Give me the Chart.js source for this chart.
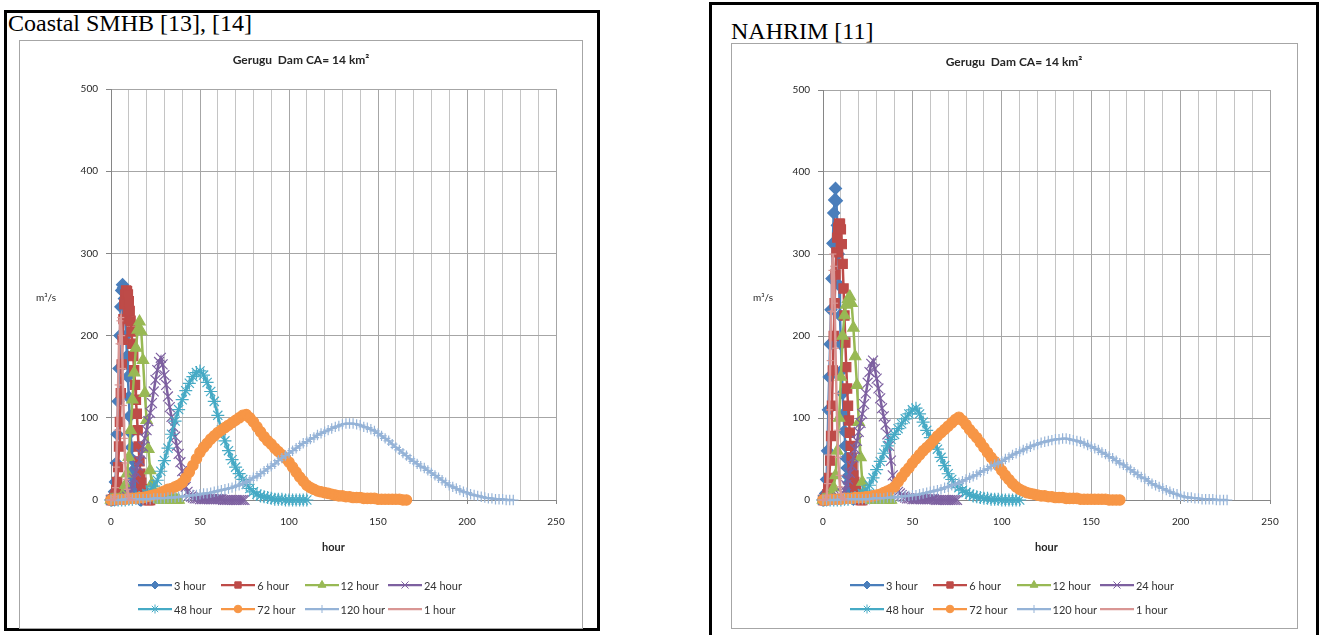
<!DOCTYPE html>
<html>
<head>
<meta charset="utf-8">
<title>Gerugu Dam design hydrographs</title>
<script src="https://cdn.jsdelivr.net/npm/chart.js@4.4.1/dist/chart.umd.min.js"></script>
<style>
  body { margin: 0; width: 1324px; height: 635px; overflow: hidden; position: relative; background: #fff; font-family: Lato, sans-serif; }
  .frame { position: absolute; border: 3px solid #000; box-sizing: border-box; }
  .caption { position: absolute; font-family: "Liberation Serif", "Times New Roman", serif; font-size: 24px; line-height: 26px; color: #000; white-space: nowrap; }
  .chartbox { position: absolute; border: 1px solid #a6a6a6; box-sizing: border-box; background: #fff; }
  .chartbox canvas { position: absolute; left: 0; top: 0; }
  .ytitle { position: absolute; font-size: 10px; color: #262626; transform: translate(-50%, -50%); white-space: nowrap; }
  .legend { position: absolute; display: grid; grid-template-columns: repeat(4, 83.3px); grid-auto-rows: 14px; row-gap: 10px; }
  .legend .item { display: flex; align-items: center; font-size: 11px; color: #333; white-space: nowrap; }
  .legend .item span { margin-left: 2px; }
</style>
</head>
<body>

<div class="frame" style="left:4px; top:10px; width:596px; height:621px;"></div>
<div class="caption" style="left:8px; top:10px;">Coastal SMHB [13], [14]</div>
<div class="chartbox" style="left:19px; top:40px; width:564px; height:589px;">
  <canvas id="smhbChart" width="562" height="587"></canvas>
</div>
<div class="ytitle" style="left:46px; top:297px;">m³/s</div>
<div class="legend" id="smhbLegend" style="left:138px; top:578px;"></div>

<div class="frame" style="left:709px; top:2px; width:610px; height:640px;"></div>
<div class="caption" style="left:731px; top:18px;">NAHRIM [11]</div>
<div class="chartbox" style="left:731px; top:43px; width:567px; height:586px;">
  <canvas id="nahrimChart" width="565" height="584"></canvas>
</div>
<div class="ytitle" style="left:763px; top:297px;">m³/s</div>
<div class="legend" id="nahrimLegend" style="left:850px; top:578px;"></div>

<script>
const seriesNames = ['3 hour', '6 hour', '12 hour', '24 hour', '48 hour', '72 hour', '120 hour', '1 hour'];
// hours between successive ordinates of each hydrograph (all start at hour 0)
const timeSteps = [0.5, 0.5, 1, 1, 2, 2, 2, 0.5];
const xTicks = [0, 50, 100, 150, 200, 250];
const yTicks = [0, 100, 200, 300, 400, 500];

// Coastal SMHB [13], [14] - discharge in m3/s
const smhb3 = [0, 0, 1, 4, 10, 22, 45, 80, 120, 160, 200, 235, 255, 262, 258, 245, 225, 200, 175, 150,
  125, 102, 82, 64, 49, 36, 26, 18, 12, 8, 5, 3, 1, 0, 0];
const smhb6 = [0, 0, 0, 1, 3, 6, 12, 22, 40, 65, 95, 130, 165, 195, 220, 238, 250, 255, 254, 250,
  242, 230, 218, 205, 190, 175, 158, 140, 122, 105, 85, 65, 47, 32, 21, 13, 8, 5, 3, 2,
  1, 0, 0, 0, 0];
const smhb12 = [0, 0, 0, 0, 0, 0, 2, 8, 18, 32, 52, 85, 122, 155, 185, 207, 217, 205, 170, 130,
  97, 62, 36, 20, 11, 6, 3, 1, 0, 0, 0, 0, 0, 0, 0, 0, 0, 0, 0];
const smhb24 = [0, 0, 0, 0, 0, 0, 1, 1, 2, 4, 7, 12, 18, 26, 34, 42, 48, 56, 65, 75,
  85, 96, 106, 118, 132, 146, 158, 168, 173, 165, 152, 140, 126, 113, 101, 89, 77, 66, 56, 46,
  35, 25, 16, 10, 6, 4, 3, 2, 2, 2, 1, 1, 1, 1, 1, 1, 1, 1, 1, 1,
  1, 1, 1, 0, 0, 0, 0, 0, 0, 0, 0, 0, 0, 0, 0, 0];
const smhb48 = [0, 0, 0, 0, 0, 1, 1, 2, 3, 5, 8, 12, 17, 24, 35, 48, 63, 80, 96, 110,
  122, 133, 142, 150, 155, 157, 152, 143, 132, 120, 103, 85, 72, 60, 49, 40, 32, 25, 19, 14,
  10, 7, 5, 4, 3, 2, 1, 1, 1, 0, 0, 0, 0, 0, 0, 0];
const smhb72 = [0, 1, 1, 1, 1, 2, 2, 2, 3, 3, 4, 5, 6, 7, 9, 11, 13, 14, 16, 18,
  21, 27, 34, 42, 50, 58, 64, 69, 74, 78, 82, 85, 88, 91, 94, 97, 100, 103, 104, 100,
  95, 89, 83, 77, 72, 68, 63, 59, 55, 51, 46, 40, 34, 28, 23, 18, 15, 13, 11, 10,
  9, 8, 7, 6, 5, 5, 4, 4, 3, 3, 3, 2, 2, 2, 2, 1, 1, 1, 1, 1,
  1, 1, 0, 0];
const smhb120 = [0, 0, 0, 0, 1, 1, 1, 1, 1, 1, 1, 1, 2, 2, 2, 2, 3, 3, 3, 4,
  4, 5, 5, 6, 6, 7, 8, 8, 9, 10, 11, 12, 13, 14, 15, 17, 18, 20, 22, 24,
  27, 29, 32, 35, 38, 41, 44, 48, 51, 54, 57, 60, 63, 66, 69, 71, 74, 76, 79, 81,
  83, 85, 87, 89, 90, 92, 93, 93, 93, 92, 91, 89, 88, 86, 84, 81, 78, 75, 72, 68,
  64, 61, 57, 54, 50, 47, 44, 41, 39, 36, 33, 30, 27, 24, 21, 18, 16, 14, 12, 10,
  9, 7, 6, 5, 4, 3, 2, 2, 1, 1, 1, 0, 0, 0];
const smhb1 = [0, 0, 0, 1, 4, 15, 40, 85, 140, 190, 218, 222, 200, 160, 115, 75, 45, 25, 13, 6,
  3, 1, 0, 0, 0];

// NAHRIM [11] - discharge in m3/s
const nahrim3 = [0, 0, 2, 8, 25, 60, 110, 150, 190, 232, 270, 313, 350, 366, 380, 365, 335, 300, 262, 225,
  190, 158, 130, 105, 84, 66, 51, 39, 29, 21, 15, 10, 6, 3, 1];
const nahrim6 = [0, 0, 0, 1, 3, 7, 14, 27, 48, 78, 115, 158, 200, 240, 275, 302, 320, 332, 337, 337,
  330, 312, 288, 258, 225, 192, 162, 136, 115, 97, 82, 66, 52, 40, 30, 22, 16, 11, 7, 4,
  2, 1, 0, 0, 0];
const nahrim12 = [0, 0, 0, 1, 3, 7, 15, 30, 60, 100, 150, 200, 225, 238, 245, 248, 240, 210, 175, 140,
  95, 52, 22, 10, 5, 2, 1, 0, 0, 0, 0, 0, 0, 0, 0, 0, 0, 0, 0];
const nahrim24 = [0, 0, 0, 0, 0, 0, 1, 1, 2, 3, 5, 8, 12, 18, 25, 33, 42, 52, 62, 72,
  83, 94, 105, 117, 130, 143, 156, 166, 170, 160, 148, 136, 124, 112, 102, 92, 80, 66, 48, 30,
  20, 14, 10, 8, 6, 4, 3, 2, 2, 2, 1, 1, 1, 1, 1, 1, 1, 1, 1, 1,
  1, 1, 1, 0, 0, 0, 0, 0, 0, 0, 0, 0, 0, 0, 0, 0];
const nahrim48 = [0, 0, 0, 0, 0, 0, 1, 1, 2, 3, 5, 8, 12, 18, 27, 37, 47, 57, 66, 74,
  80, 87, 93, 99, 105, 110, 112, 105, 95, 85, 76, 69, 62, 52, 42, 32, 25, 19, 15, 12,
  9, 7, 5, 4, 3, 2, 2, 1, 1, 1, 0, 0, 0, 0, 0, 0];
const nahrim72 = [0, 0, 1, 1, 1, 1, 2, 2, 2, 3, 3, 3, 4, 4, 5, 6, 7, 9, 11, 13,
  16, 22, 28, 34, 39, 45, 50, 55, 60, 64, 68, 73, 78, 82, 86, 90, 94, 98, 101, 97,
  92, 86, 81, 76, 70, 64, 58, 52, 47, 42, 36, 30, 25, 20, 16, 13, 11, 9, 8, 7,
  6, 5, 5, 4, 4, 3, 3, 3, 2, 2, 2, 2, 1, 1, 1, 1, 1, 1, 1, 1,
  0, 0, 0, 0];
const nahrim120 = [0, 0, 0, 0, 0, 1, 1, 1, 1, 1, 1, 1, 1, 1, 2, 2, 2, 2, 3, 3,
  3, 4, 4, 5, 5, 6, 6, 7, 8, 9, 10, 11, 12, 13, 15, 16, 18, 19, 21, 23,
  25, 27, 29, 31, 34, 36, 38, 41, 43, 45, 47, 50, 52, 55, 57, 59, 61, 63, 65, 67,
  68, 70, 71, 72, 73, 74, 74, 75, 75, 74, 73, 72, 71, 69, 67, 65, 63, 61, 58, 56,
  53, 51, 48, 45, 43, 40, 37, 34, 31, 28, 26, 23, 20, 18, 16, 14, 12, 10, 8, 7,
  5, 4, 3, 3, 2, 2, 1, 1, 1, 1, 0, 0, 0, 0];
const nahrim1 = [0, 0, 0, 1, 5, 20, 55, 110, 170, 230, 280, 300, 285, 240, 185, 130, 85, 52, 30, 16,
  8, 4, 2, 1, 0];

const smhbSeries = [smhb3, smhb6, smhb12, smhb24, smhb48, smhb72, smhb120, smhb1];
const nahrimSeries = [nahrim3, nahrim6, nahrim12, nahrim24, nahrim48, nahrim72, nahrim120, nahrim1];

// Excel-like series look
const colors = ['#4A7EBB', '#BE4B48', '#98B954', '#7D60A0', '#46AAC5', '#F79646', '#95B3D7', '#D99694'];
const markers = ['rectRot', 'rect', 'triangle', 'crossRot', 'star', 'circle', 'cross', 'line'];
const markerSizes = [6, 6.5, 6.5, 7, 6.5, 5.2, 5.2, 3.5];
const legendMarkerSizes = [4, 4.5, 4.5, 5, 4.5, 3.8, 4, 3];

Chart.defaults.font.family = 'Lato';

function buildChart(canvasId, series, pad) {
  const ctx = document.getElementById(canvasId).getContext('2d');
  const datasets = series.map((values, i) => ({
    label: seriesNames[i],
    data: values.map((q, k) => ({ x: k * timeSteps[i], y: q })),
    borderColor: colors[i],
    backgroundColor: colors[i],
    borderWidth: 2.5,
    pointStyle: markers[i],
    pointRadius: markerSizes[i],
    pointBorderWidth: 1.2,
    pointBackgroundColor: colors[i],
    pointBorderColor: colors[i],
    tension: 0,
    clip: false,
    order: series.length - i // later series painted on top, as in Excel
  }));

  return new Chart(ctx, {
    type: 'line',
    data: { datasets },
    options: {
      responsive: false,
      animation: false,
      events: [],
      layout: { padding: { left: 26, right: pad.right, top: 0, bottom: 68 } },
      plugins: {
        legend: { display: false },
        tooltip: { enabled: false },
        title: {
          display: true,
          text: 'Gerugu  Dam CA= 14 km²',
          color: '#262626',
          font: { size: 12, weight: 'bold' },
          padding: { top: pad.titleTop, bottom: pad.titleBottom }
        }
      },
      scales: {
        x: {
          type: 'linear',
          min: 0,
          max: 250,
          afterFit: s => { s.height = 60; },
          ticks: {
            stepSize: 10,
            autoSkip: false,
            maxRotation: 0,
            minRotation: 0,
            padding: 12,
            color: '#262626',
            font: { size: 10 },
            callback: v => (xTicks.includes(v) ? v : '')
          },
          grid: {
            color: c => (c.tick && xTicks.includes(c.tick.value) ? '#A6A6A6' : '#C4C4C4'),
            tickColor: c => (c.tick && xTicks.includes(c.tick.value) ? '#868686' : 'rgba(0,0,0,0)'),
            tickLength: 4
          },
          border: { color: '#868686' },
          title: {
            display: true,
            text: 'hour',
            color: '#262626',
            font: { size: 11, weight: 'bold' },
            padding: { top: 0, bottom: 6 }
          }
        },
        y: {
          min: 0,
          max: 500,
          afterFit: s => { s.width = 65; },
          ticks: {
            stepSize: 100,
            padding: 8,
            color: '#262626',
            font: { size: 10 },
            callback: v => (yTicks.includes(v) ? v : '')
          },
          grid: { color: '#A6A6A6', tickColor: '#868686', tickLength: 5 },
          border: { color: '#868686' }
        }
      }
    }
  });
}

// legend laid out in fixed columns like the Excel legend
function buildLegend(chart, el) {
  chart.data.datasets.forEach((ds, i) => {
    const item = document.createElement('div');
    item.className = 'item';
    const sample = document.createElement('canvas');
    sample.width = 34;
    sample.height = 14;
    const g = sample.getContext('2d');
    g.strokeStyle = ds.borderColor;
    g.lineWidth = 2.25;
    g.beginPath();
    g.moveTo(0, 7);
    g.lineTo(34, 7);
    g.stroke();
    if (Chart.helpers && Chart.helpers.drawPoint) {
      g.fillStyle = ds.pointBackgroundColor;
      g.lineWidth = 1;
      Chart.helpers.drawPoint(g, { pointStyle: ds.pointStyle, radius: legendMarkerSizes[i], borderWidth: 1, rotation: 0 }, 17, 7);
    }
    const text = document.createElement('span');
    text.textContent = ds.label;
    item.append(sample, text);
    el.appendChild(item);
  });
}

const smhbChart = buildChart('smhbChart', smhbSeries, { right: 26, titleTop: 12, titleBottom: 21.6 });
const nahrimChart = buildChart('nahrimChart', nahrimSeries, { right: 27, titleTop: 11, titleBottom: 20.6 });
buildLegend(smhbChart, document.getElementById('smhbLegend'));
buildLegend(nahrimChart, document.getElementById('nahrimLegend'));
</script>
</body>
</html>
